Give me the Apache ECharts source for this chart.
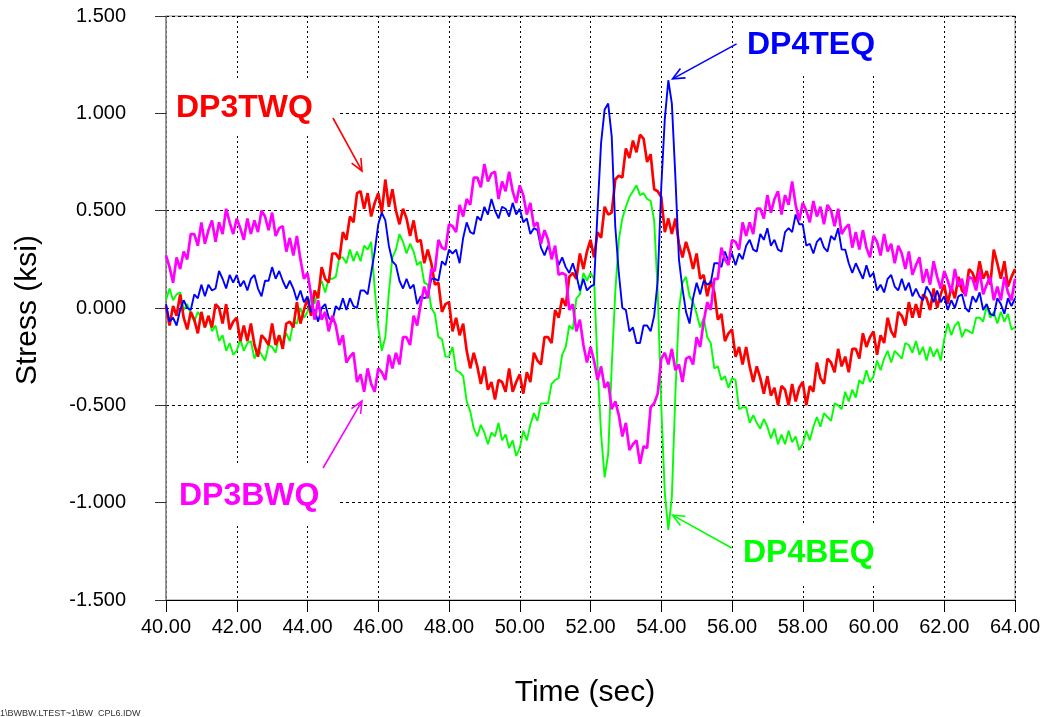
<!DOCTYPE html>
<html><head><meta charset="utf-8">
<script src="https://cdn.jsdelivr.net/npm/echarts@6/dist/echarts.min.js"></script>
<style>html,body{margin:0;padding:0;background:#fff}#c{width:1045px;height:717px}</style>
</head><body><div id="c"></div>
<script>
// sample grid: 40.0 s to 64.0 s every 0.1 s
const tStart = 40, tStep = 0.1;
const xTicks = [40,42,44,46,48,50,52,54,56,58,60,62,64];
const yTicks = [-1.5,-1.0,-0.5,0,0.5,1.0,1.5];

const DP3TWQ = [
0.01,-0.09,0.01,-0.04,0.07,-0.05,-0.11,-0.02,-0.06,-0.13,
-0.02,-0.10,-0.04,-0.10,0.02,0.00,-0.08,0.02,-0.11,-0.07,
-0.05,-0.17,-0.09,-0.17,-0.08,-0.19,-0.25,-0.14,-0.16,-0.19,
-0.08,-0.19,-0.14,-0.21,-0.08,-0.07,-0.10,0.03,-0.08,-0.01,
0.05,-0.04,0.09,0.05,0.21,0.15,0.13,0.28,0.28,0.25,
0.39,0.35,0.47,0.44,0.59,0.60,0.51,0.59,0.47,0.54,
0.59,0.49,0.66,0.52,0.61,0.50,0.43,0.51,0.46,0.37,
0.45,0.34,0.35,0.23,0.30,0.23,0.12,0.13,-0.02,0.02,
0.03,-0.12,-0.05,-0.14,-0.08,-0.22,-0.31,-0.23,-0.30,-0.39,
-0.30,-0.42,-0.38,-0.47,-0.37,-0.38,-0.43,-0.31,-0.43,-0.38,
-0.34,-0.44,-0.33,-0.38,-0.23,-0.27,-0.29,-0.15,-0.15,-0.18,
-0.01,-0.05,0.05,0.01,0.16,0.18,0.15,0.28,0.20,0.29,
0.35,0.26,0.39,0.36,0.52,0.48,0.49,0.66,0.68,0.67,
0.82,0.77,0.86,0.80,0.89,0.87,0.75,0.79,0.61,0.60,
0.57,0.39,0.46,0.38,0.46,0.33,0.26,0.34,0.28,0.20,
0.28,0.15,0.17,0.06,0.14,0.08,-0.06,-0.03,-0.17,-0.13,
-0.11,-0.25,-0.20,-0.29,-0.20,-0.30,-0.38,-0.30,-0.36,-0.44,
-0.35,-0.45,-0.41,-0.50,-0.40,-0.42,-0.50,-0.39,-0.48,-0.41,
-0.38,-0.50,-0.40,-0.43,-0.28,-0.36,-0.39,-0.26,-0.28,-0.33,
-0.21,-0.30,-0.25,-0.33,-0.21,-0.21,-0.26,-0.13,-0.20,-0.15,
-0.12,-0.24,-0.14,-0.18,-0.05,-0.12,-0.15,-0.02,-0.04,-0.09,
0.03,-0.05,0.02,-0.05,0.07,0.05,-0.01,0.10,0.00,0.07,
0.12,0.02,0.11,0.05,0.16,0.09,0.07,0.20,0.18,0.13,
0.24,0.15,0.19,0.12,0.30,0.23,0.15,0.24,0.11,0.16,
0.20];

const DP3BWQ = [
0.27,0.21,0.13,0.26,0.20,0.29,0.25,0.38,0.38,0.32,
0.44,0.33,0.40,0.45,0.34,0.44,0.38,0.51,0.44,0.38,
0.46,0.41,0.35,0.46,0.38,0.45,0.39,0.50,0.47,0.40,
0.49,0.37,0.41,0.42,0.29,0.36,0.27,0.37,0.25,0.15,
0.18,0.07,-0.06,0.04,-0.06,-0.02,-0.12,-0.04,-0.09,-0.19,
-0.14,-0.28,-0.25,-0.23,-0.38,-0.34,-0.43,-0.31,-0.39,-0.43,
-0.31,-0.33,-0.37,-0.24,-0.31,-0.23,-0.29,-0.15,-0.15,-0.19,
-0.04,-0.09,0.02,0.11,0.05,0.20,0.19,0.35,0.31,0.30,
0.43,0.42,0.39,0.53,0.47,0.56,0.53,0.67,0.67,0.62,
0.74,0.65,0.69,0.70,0.56,0.65,0.60,0.70,0.60,0.54,
0.63,0.58,0.48,0.54,0.42,0.44,0.33,0.40,0.35,0.25,
0.32,0.17,0.18,0.17,-0.01,0.02,-0.12,-0.06,-0.19,-0.28,
-0.20,-0.27,-0.37,-0.30,-0.41,-0.38,-0.52,-0.48,-0.55,-0.66,
-0.59,-0.73,-0.70,-0.68,-0.80,-0.71,-0.72,-0.51,-0.49,-0.44,
-0.26,-0.23,-0.29,-0.21,-0.32,-0.29,-0.38,-0.26,-0.25,-0.29,
-0.15,-0.20,-0.07,0.03,-0.01,0.15,0.15,0.31,0.25,0.22,
0.35,0.34,0.30,0.44,0.37,0.44,0.38,0.51,0.51,0.46,
0.58,0.49,0.56,0.60,0.48,0.58,0.53,0.65,0.53,0.45,
0.54,0.50,0.44,0.55,0.47,0.52,0.43,0.53,0.50,0.42,
0.51,0.38,0.41,0.43,0.31,0.39,0.30,0.40,0.31,0.26,
0.37,0.34,0.27,0.38,0.29,0.33,0.23,0.32,0.28,0.20,
0.29,0.17,0.22,0.26,0.13,0.20,0.12,0.24,0.16,0.10,
0.19,0.14,0.08,0.20,0.11,0.15,0.06,0.16,0.15,0.09,
0.19,0.07,0.12,0.16,0.04,0.11,0.04,0.16,0.08,0.04,
0.15];

const DP4TEQ = [
0.02,-0.07,-0.05,-0.09,-0.01,0.04,0.00,-0.01,0.07,0.05,
0.12,0.06,0.12,0.09,0.10,0.19,0.15,0.10,0.17,0.13,
0.17,0.11,0.14,0.09,0.15,0.17,0.10,0.06,0.14,0.14,
0.21,0.15,0.19,0.14,0.10,0.14,0.10,0.04,0.09,0.03,
0.06,-0.02,-0.01,-0.07,0.00,0.02,-0.05,-0.07,0.01,-0.01,
0.05,-0.01,0.05,0.01,0.00,0.09,0.09,0.07,0.18,0.29,
0.43,0.49,0.45,0.32,0.24,0.22,0.14,0.10,0.15,0.10,
0.12,0.02,0.06,0.05,0.06,0.15,0.15,0.14,0.24,0.22,
0.30,0.28,0.30,0.23,0.36,0.44,0.39,0.38,0.47,0.45,
0.52,0.48,0.56,0.50,0.46,0.52,0.51,0.47,0.54,0.48,
0.51,0.44,0.46,0.38,0.41,0.40,0.31,0.27,0.32,0.27,
0.30,0.22,0.26,0.21,0.18,0.23,0.17,0.09,0.15,0.09,
0.11,0.12,0.50,0.85,1.02,1.05,0.88,0.42,0.18,0.00,
-0.01,-0.12,-0.10,-0.18,-0.18,-0.09,-0.09,-0.12,-0.04,0.14,
0.62,0.97,1.17,1.05,0.67,0.25,0.10,-0.02,-0.08,0.05,
0.13,0.07,0.14,0.12,0.13,0.23,0.23,0.21,0.29,0.24,
0.28,0.22,0.28,0.25,0.32,0.35,0.30,0.29,0.38,0.35,
0.41,0.32,0.35,0.30,0.29,0.39,0.41,0.39,0.48,0.43,
0.43,0.32,0.33,0.28,0.34,0.36,0.31,0.29,0.37,0.35,
0.41,0.30,0.30,0.23,0.18,0.23,0.19,0.15,0.22,0.16,
0.18,0.09,0.12,0.08,0.15,0.17,0.11,0.09,0.15,0.09,
0.13,0.06,0.10,0.06,0.04,0.11,0.08,0.03,0.09,0.03,
0.06,-0.01,0.04,0.00,0.06,0.07,0.00,-0.02,0.06,0.03,
0.08,-0.01,0.02,-0.03,-0.04,0.05,0.02,-0.03,0.05,0.01,
0.05];

const DP4BEQ = [
0.04,0.10,0.04,0.07,0.08,-0.01,0.02,-0.03,-0.07,-0.02,
-0.05,-0.10,-0.04,-0.12,-0.09,-0.17,-0.14,-0.22,-0.18,-0.24,
-0.22,-0.16,-0.22,-0.18,-0.17,-0.26,-0.21,-0.24,-0.27,-0.19,
-0.20,-0.23,-0.14,-0.18,-0.13,-0.17,-0.07,-0.08,0.00,-0.05,
-0.02,0.06,0.02,0.09,0.14,0.08,0.15,0.15,0.16,0.26,
0.26,0.23,0.30,0.24,0.29,0.24,0.32,0.30,0.34,0.10,
-0.10,-0.22,-0.15,0.08,0.26,0.30,0.38,0.34,0.28,0.33,
0.29,0.22,0.24,0.13,0.12,0.00,-0.03,-0.15,-0.16,-0.25,
-0.25,-0.20,-0.32,-0.33,-0.35,-0.48,-0.53,-0.62,-0.66,-0.60,
-0.64,-0.70,-0.64,-0.66,-0.59,-0.68,-0.65,-0.72,-0.68,-0.76,
-0.72,-0.63,-0.68,-0.60,-0.54,-0.58,-0.49,-0.49,-0.49,-0.39,
-0.37,-0.36,-0.24,-0.20,-0.09,-0.11,0.05,0.07,0.18,0.14,
0.18,0.15,-0.30,-0.65,-0.87,-0.75,-0.30,0.08,0.35,0.46,
0.52,0.57,0.60,0.63,0.58,0.59,0.56,0.55,0.45,0.08,
-0.50,-0.95,-1.14,-0.97,-0.44,-0.01,0.13,0.16,0.06,0.03,
-0.03,-0.10,-0.05,-0.15,-0.18,-0.31,-0.30,-0.37,-0.35,-0.41,
-0.36,-0.37,-0.52,-0.51,-0.51,-0.59,-0.55,-0.59,-0.62,-0.57,
-0.61,-0.67,-0.62,-0.70,-0.65,-0.70,-0.63,-0.69,-0.66,-0.73,
-0.70,-0.63,-0.68,-0.61,-0.56,-0.61,-0.54,-0.56,-0.58,-0.49,
-0.50,-0.52,-0.43,-0.48,-0.42,-0.46,-0.37,-0.39,-0.32,-0.38,
-0.35,-0.27,-0.32,-0.26,-0.22,-0.28,-0.22,-0.24,-0.26,-0.18,
-0.19,-0.23,-0.17,-0.24,-0.20,-0.27,-0.20,-0.25,-0.21,-0.27,
-0.16,-0.08,-0.14,-0.09,-0.07,-0.15,-0.11,-0.12,-0.13,-0.05,
-0.05,-0.07,0.01,-0.05,-0.02,-0.08,-0.02,-0.07,-0.03,-0.11,
-0.10];

// annotation arrows: [tail (time, stress), tip (time, stress)]
const annotations = [
  {name:'DP3TWQ', color:'#ff0000', tail:[44.72,0.976], tip:[45.54,0.704]},
  {name:'DP3BWQ', color:'#ff00ff', tail:[44.44,-0.822], tip:[45.54,-0.478]},
  {name:'DP4TEQ', color:'#0000ff', tail:[56.13,1.357], tip:[54.32,1.177]},
  {name:'DP4BEQ', color:'#00ff00', tail:[55.99,-1.233], tip:[54.32,-1.064]}
];

const FONT = "'Liberation Sans', Arial, Helvetica, sans-serif";
function pairs(arr){ return arr.map((v,i)=>[+(tStart + i*tStep).toFixed(1), v]); }

const chart = echarts.init(document.getElementById('c'), null, {renderer:'canvas'});
const option = {
  animation: false,
  backgroundColor: '#fff',
  grid: {left:166, right:30, top:16, bottom:117, show:true, borderColor:'#8a8a8a', borderWidth:1, backgroundColor:'transparent'},
  xAxis: {
    type:'value', min:xTicks[0], max:xTicks[xTicks.length-1], interval:2,
    axisLine:{show:true, onZero:false, lineStyle:{color:'#000', width:1}},
    axisTick:{show:true, inside:false, length:12, lineStyle:{color:'#000'}},
    axisLabel:{formatter:v=>v.toFixed(2), fontSize:20, color:'#000', fontFamily:FONT, margin:17},
    splitLine:{show:true, lineStyle:{color:'#000', width:1, type:[2,3]}}
  },
  yAxis: {
    type:'value', min:yTicks[0], max:yTicks[yTicks.length-1], interval:0.5,
    axisLine:{show:true, onZero:false, lineStyle:{color:'#8a8a8a', width:1.5}},
    axisTick:{show:true, inside:false, length:11, lineStyle:{color:'#333'}},
    axisLabel:{formatter:v=>v.toFixed(3), fontSize:20, color:'#000', fontFamily:FONT, margin:40},
    splitLine:{show:true, lineStyle:{color:'#000', width:1, type:[3,3]}}
  },
  series: [
    {name:'DP4BEQ', type:'line', data:pairs(DP4BEQ), showSymbol:false, lineStyle:{color:'#00ff00', width:1.9}, z:2},
    {name:'DP3TWQ', type:'line', data:pairs(DP3TWQ), showSymbol:false, lineStyle:{color:'#ff0000', width:2.7}, z:3},
    {name:'DP4TEQ', type:'line', data:pairs(DP4TEQ), showSymbol:false, lineStyle:{color:'#0000ff', width:1.9}, z:4},
    {name:'DP3BWQ', type:'line', data:pairs(DP3BWQ), showSymbol:false, lineStyle:{color:'#ff00ff', width:2.7}, z:5}
  ]
};
chart.setOption(option);

// label boxes (pixel layout of annotation text)
const boxes = {
  DP3TWQ:{bx:167, by:79,  bw:170, bh:57, tx:176, ty:108},
  DP3BWQ:{bx:167, by:466, bw:172, bh:60, tx:179, ty:496},
  DP4TEQ:{bx:737, by:17,  bw:150, bh:56, tx:747, ty:45},
  DP4BEQ:{bx:735, by:526, bw:155, bh:58, tx:743, ty:553}
};
const graphics = [];
annotations.forEach(a=>{
  const b = boxes[a.name];
  graphics.push({type:'rect', z:10, shape:{x:b.bx, y:b.by, width:b.bw, height:b.bh}, style:{fill:'#fff'}});
  graphics.push({type:'text', z:12, x:b.tx, y:b.ty, style:{text:a.name, fill:a.color, font:"bold 32px "+FONT, textAlign:'left', verticalAlign:'middle', textVerticalAlign:'middle'}});
  const p0 = chart.convertToPixel({xAxisIndex:0, yAxisIndex:0}, a.tail);
  const p1 = chart.convertToPixel({xAxisIndex:0, yAxisIndex:0}, a.tip);
  graphics.push({type:'line', z:12, shape:{x1:p0[0], y1:p0[1], x2:p1[0], y2:p1[1]}, style:{stroke:a.color, lineWidth:1.6}});
  const ang = Math.atan2(p1[1]-p0[1], p1[0]-p0[0]);
  const L = 13, h = 0.42;
  const q1 = [p1[0]-L*Math.cos(ang-h), p1[1]-L*Math.sin(ang-h)];
  const q2 = [p1[0]-L*Math.cos(ang+h), p1[1]-L*Math.sin(ang+h)];
  graphics.push({type:'polyline', z:12, shape:{points:[q1, p1, q2]}, style:{stroke:a.color, lineWidth:1.6, fill:null}});
});
graphics.push({type:'text', z:12, x:28, y:310, rotation:Math.PI/2, style:{text:'Stress (ksi)', fill:'#000', font:"30px "+FONT, textAlign:'center', verticalAlign:'middle', textVerticalAlign:'middle'}});
graphics.push({type:'text', z:12, x:585, y:693, style:{text:'Time (sec)', fill:'#000', font:"30px "+FONT, textAlign:'center', verticalAlign:'middle', textVerticalAlign:'middle'}});
graphics.push({type:'text', z:12, x:0, y:709, style:{text:'1\\BWBW.LTEST~1\\BW_CPL6.IDW', fill:'#333', font:"9px "+FONT, textAlign:'left', verticalAlign:'top', textVerticalAlign:'top'}});
chart.setOption({graphic: graphics});
</script>
</body></html>
